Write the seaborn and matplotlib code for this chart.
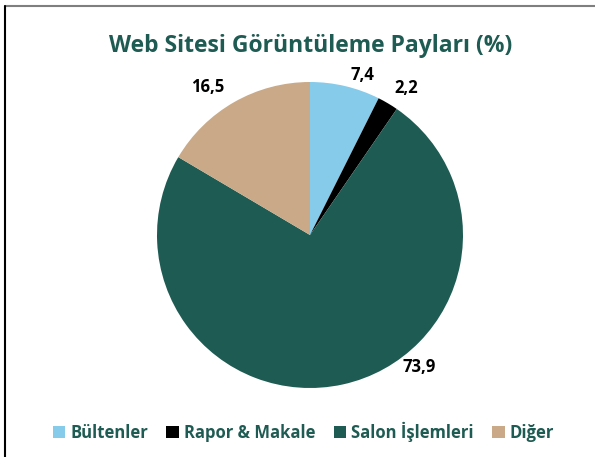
import matplotlib.pyplot as plt
import seaborn as sns
import numpy as np
from matplotlib.patches import Patch
from matplotlib.lines import Line2D

# Veriler
kategoriler = ["Bültenler", "Rapor & Makale", "Salon İşlemleri", "Diğer"]
paylar = [7.4, 2.2, 73.9, 16.5]
renkler = ["#87CBEA", "#000000", "#1E5B52", "#C9A987"]
etiket_kaydirma = [-5, -2.5, 27, 5]       # etiket açısı düzeltmesi (derece)
etiket_uzaklik = [1.10, 1.15, 1.12, 1.18]  # yarıçapa göre

sns.set_theme(style="white")
plt.rcParams['font.family'] = ['Open Sans', 'DejaVu Sans']

fig = plt.figure(figsize=(5.95, 4.57), dpi=100)
ax = fig.add_axes([157 / 595, 69 / 457, 306 / 595, 306 / 457])

wedges, _ = ax.pie(paylar, colors=renkler, startangle=90, counterclock=False,
                   wedgeprops={'linewidth': 0})
ax.set_aspect('equal')
ax.set_xlim(-1, 1)
ax.set_ylim(-1, 1)

# Değer etiketleri
for w, val, kay, r in zip(wedges, paylar, etiket_kaydirma, etiket_uzaklik):
    aci = np.deg2rad((w.theta1 + w.theta2) / 2 + kay)
    ax.text(r * np.cos(aci), r * np.sin(aci), f"{val:.1f}".replace(".", ","),
            ha='center', va='center', fontsize=12, fontweight='bold', color='black',
            clip_on=False)

fig.text(0.522, 0.899, "Web Sitesi Görüntüleme Payları (%)", ha='center', va='center',
         fontsize=16.5, fontweight='bold', color="#1E5B52")

tutamaklar = [Patch(facecolor=c, edgecolor='none') for c in renkler]
leg = fig.legend(tutamaklar, kategoriler, loc='center', bbox_to_anchor=(0.51, 0.055),
                 ncol=4, frameon=False, handlelength=0.75, handleheight=0.75,
                 handletextpad=0.3, columnspacing=1.1, prop={'weight': 'bold', 'size': 12})
for t in leg.get_texts():
    t.set_color("#1E5B52")

# Çerçeve çizgileri
fig.add_artist(Line2D([5 / 595, 1], [1 - 6 / 457, 1 - 6 / 457], color="#7F7F7F", lw=1.5,
                      transform=fig.transFigure))
fig.add_artist(Line2D([5 / 595, 5 / 595], [0, 1 - 6 / 457], color="black", lw=1.5,
                      transform=fig.transFigure))

fig.savefig("out.png", dpi=100)
